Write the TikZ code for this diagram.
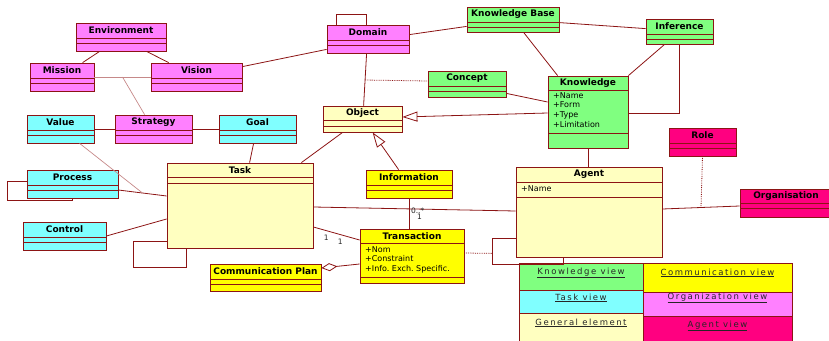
\documentclass[tikz,border=0pt]{standalone}
\usepackage{fontspec}
\usepackage{tikz}
\usetikzlibrary{arrows,arrows.meta,positioning,calc}
\newfontfamily\umlfont{DejaVu Sans}
\newfontfamily\legendfont[LetterSpace=18]{DejaVu Sans}
\definecolor{umlborder}{RGB}{140,20,20}
\definecolor{orgc}{RGB}{255,128,255}
\definecolor{taskc}{RGB}{128,255,255}
\definecolor{knowc}{RGB}{128,255,128}
\definecolor{commc}{RGB}{255,255,0}
\definecolor{genc}{RGB}{255,255,192}
\definecolor{agentc}{RGB}{255,0,128}

\begin{document}
\begin{tikzpicture}[x=1pt,y=-1pt,
        classbox/.style={rectangle,draw=umlborder,line width=0.8pt,inner sep=0pt},
        classname/.style={inner sep=0pt,font=\umlfont\bfseries\fontsize{9}{10}\selectfont},
        attrs/.style={anchor=north west,align=left,inner sep=0pt,font=\umlfont\fontsize{8}{9.7}\selectfont},
        link/.style={umlborder,line width=0.8pt},
        faint/.style={umlborder!50,line width=0.7pt},
        dotlink/.style={umlborder,line width=0.8pt,densely dotted},
        mult/.style={inner sep=1pt,text=black!85,font=\umlfont\fontsize{7.5}{8}\selectfont},
        legendtext/.style={inner sep=0pt,text=black!85,font=\legendfont\fontsize{8.5}{10}\selectfont}]
        \useasboundingbox (0,0) rectangle (829,340);
        \clip (0,0) rectangle (829,340);

        % classes: name/left/top/right/bottom/line1/line2/colour/title
        \foreach \n/\xa/\ya/\xb/\yb/\la/\lb/\c/\t in {
            env/76/23/166/51/38/43/orgc/Environment,
            mission/30/63/94/91/78/83/orgc/Mission,
            vision/151/63/242/91/78/83/orgc/Vision,
            domain/327/25/409/53/40/45/orgc/Domain,
            value/27/115/94/143/130/135/taskc/Value,
            strategy/115/115/192/143/130/135/orgc/Strategy,
            goal/219/115/296/143/130/135/taskc/Goal,
            object/323/106/402/132/120/126/genc/Object,
            task/167/163/313/248/177/183/genc/Task,
            process/27/170/118/198/185/190/taskc/Process,
            control/23/222/106/250/237/242/taskc/Control,
            kbase/467/7/559/32/22/27/knowc/Knowledge Base,
            inference/646/19/713/44/34/39/knowc/Inference,
            concept/428/71/506/97/86/91/knowc/Concept,
            knowledge/548/76/628/148/90/133/knowc/Knowledge,
            role/669/128/736/156/143/148/agentc/Role,
            agent/516/167/662/257/182/197/genc/Agent,
            organisation/740/189/832/217/203/208/agentc/Organisation,
            information/366/170/452/198/185/190/commc/Information,
            transaction/360/229/464/283/243/277/commc/Transaction,
            commplan/210/264/321/291/279/284/commc/Communication Plan%
        }
            {
                \node[classbox,fill=\c,minimum width={(\xb-\xa)*1pt},minimum height={(\yb-\ya)*1pt}] (\n) at ({(\xa+\xb)/2},{(\ya+\yb)/2}) {};
                \node[classname] (\n-name) at ({(\xa+\xb)/2},{(\ya+\la)/2}) {\t};
                \draw[umlborder,line width=0.8pt] (\xa,\la) -- (\xb,\la) (\xa,\lb) -- (\xb,\lb);
            }

        \node[attrs] (knowledge-attr) at (553,92) {+Name\\+Form\\+Type\\+Limitation};
        \node[attrs] (agent-attr) at (521,185) {+Name};
        \node[attrs] (transaction-attr) at (365,246) {+Nom\\+Constraint\\+Info.\ Exch.\ Specific.};

        % legend
        \foreach \n/\xa/\ya/\xb/\yb/\c/\ty/\t in {
            legknow/519/263/643/290/knowc/273/Knowledge view,
            legtask/519/290/643/313/taskc/298/Task view,
            leggen/519/313/643/345/genc/323/General element,
            legcomm/643/263/792/292/commc/273/Communication view,
            legorg/643/292/792/316/orgc/298/Organization view,
            legagent/643/316/792/345/agentc/326/Agent view%
        }
            {
                \node[classbox,fill=\c,minimum width={(\xb-\xa)*1pt},minimum height={(\yb-\ya)*1pt}] (\n) at ({(\xa+\xb)/2},{(\ya+\yb)/2}) {};
                \node[legendtext] (\n-text) at ({(\xa+\xb)/2},\ty) {\underline{\t}};
            }

        % organisation view
        \draw[link] ([xshift=24pt]env.south west) -- ([xshift=53pt]mission.north west);
        \draw[link] ([xshift=71pt]env.south west) -- ([xshift=18pt]vision.north west);
        \draw[faint] (mission.east) -- coordinate (mv) (vision.west);
        \draw[faint] (mv) -- ([xshift=30pt]strategy.north west);
        \draw[link] ([yshift=-4pt]vision.north east) -- ([yshift=4pt]domain.south west);
        \draw[link] ([xshift=10pt]domain.north west) -- ++(0,-10) -| ([xshift=40pt]domain.north west);
        \draw[link] (value.east) -- (strategy.west);
        \draw[link] (strategy.east) -- (goal.west);

        % knowledge view
        \draw[link] ([yshift=-10pt]domain.north east) -- ([yshift=6pt]kbase.south west);
        \draw[link] ([xshift=40pt]domain.south west) -- coordinate[pos=0.51] (dob) ([xshift=41pt]object.north west);
        \draw[dotlink] (dob) -- ([yshift=3pt]concept.west);
        \draw[link] ([yshift=-16pt]kbase.north east) -- ([yshift=-10pt]inference.north west);
        \draw[link] ([xshift=57pt]kbase.south west) -- ([xshift=10pt]knowledge.north west);
        \draw[link] ([xshift=19pt]inference.south west) -- (knowledge.north east);
        \draw[link] ([xshift=34pt]inference.south west) |- ([yshift=-1pt]knowledge.east);
        \draw[link] ([yshift=4pt]concept.south east) -- ([yshift=10pt]knowledge.west);
        \draw[link,-{Triangle[fill=white,length=15pt,width=10pt]}] ([yshift=-1pt]knowledge.west) -- ([yshift=2pt]object.east);
        \draw[link,-{Triangle[fill=white,length=15pt,width=10pt]}] ([xshift=33pt]information.north west) -- ([xshift=50pt]object.south west);
        \draw[link] (knowledge.south) -- (knowledge.south |- agent.north);

        % task view
        \draw[link] ([xshift=20pt]object.south west) -- ([xshift=-12pt]task.north east);
        \draw[link] ([xshift=35pt]goal.south west) -- ([xshift=83pt]task.north west);
        \draw[link] ([yshift=-6pt]process.east) -- coordinate (pt) ([yshift=9.5pt]task.west);
        \draw[faint] ([xshift=53pt]value.south west) -- (pt);
        \draw[link] ([yshift=-12pt]process.north west) -- ++(-19,0) |- ([xshift=46pt,yshift=-2pt]process.south west) -- ([xshift=46pt]process.south west);
        \draw[link] (control.east) -- ([yshift=-13.5pt]task.west);
        \draw[link] ([yshift=7pt]task.south west) -- ++(-33,0) |- ([xshift=20pt,yshift=-19pt]task.south west) -- ([xshift=20pt]task.south west);

        % communication view
        \draw[link] ([yshift=-1.5pt]task.east) -- ([yshift=1pt]agent.west);
        \draw[link] ([yshift=-21.5pt]task.east) -- node[mult,pos=0.28,below=3pt] (m1) {1} node[mult,pos=0.58,below=3pt] (m2) {1} ([yshift=16pt]transaction.west);
        \draw[link] ([xshift=44pt]information.south west) -- node[mult,pos=0.42,right] (m3) {0..*} node[mult,pos=0.62,right=6pt] (m4) {1} ([xshift=50pt]transaction.north west);
        \draw[link,{Diamond[fill=white,length=16pt,width=8pt]}-] ([yshift=9.5pt]commplan.east) -- ([yshift=-8pt]transaction.west);
        \coordinate (aloop) at ([xshift=-23pt,yshift=4pt]agent.south west);
        \draw[link] ([yshift=19pt]agent.south west) -- ++(-23,0) |- ([xshift=48pt,yshift=-7pt]agent.south west) -- ([xshift=48pt]agent.south west);
        \draw[dotlink] ([yshift=3pt]transaction.east) -- (aloop);

        % agent view
        \draw[link] ([yshift=3pt]agent.east) -- coordinate (ao) ([yshift=-3pt]organisation.west);
        \draw[dotlink] (role.south) -- (ao);
    \end{tikzpicture}
\end{document}
